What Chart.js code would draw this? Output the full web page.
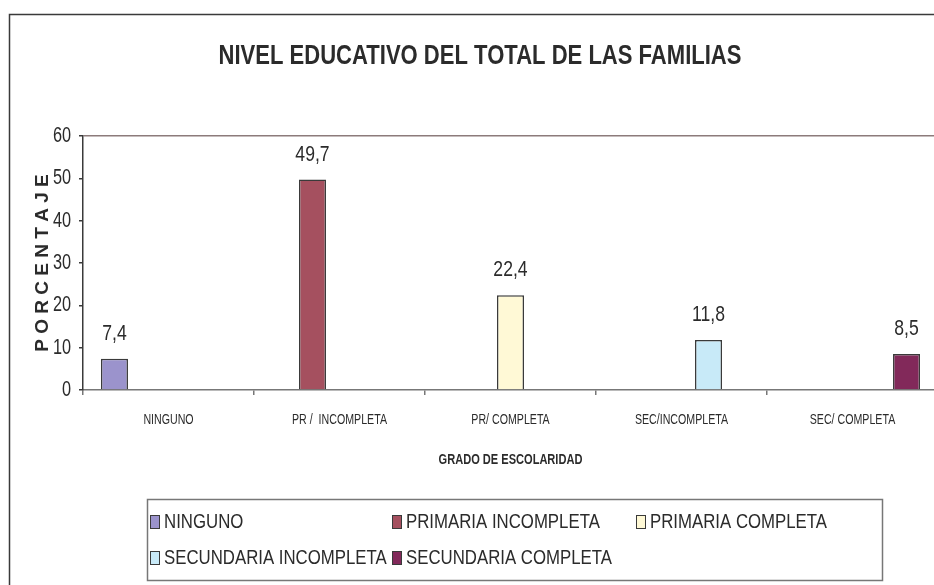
<!DOCTYPE html>
<html>
<head>
<meta charset="utf-8">
<script src="https://cdn.jsdelivr.net/npm/chart.js@4.4.1/dist/chart.umd.min.js"></script>
<style>
  html, body { margin: 0; padding: 0; background: #fff; overflow: hidden; width: 934px; height: 585px; }
  #wrap { position: absolute; left: 0; top: 0; width: 960px; height: 585px; }
</style>
</head>
<body>
<div id="wrap"><canvas id="c" width="960" height="585"></canvas></div>
<script>
const categories = ['NINGUNO', 'PR /  INCOMPLETA', 'PR/ COMPLETA', 'SEC/INCOMPLETA', 'SEC/ COMPLETA'];
const seriesNames = ['NINGUNO', 'PRIMARIA INCOMPLETA', 'PRIMARIA COMPLETA', 'SECUNDARIA INCOMPLETA', 'SECUNDARIA COMPLETA'];
const values = [7.4, 49.7, 22.4, 11.8, 8.5];
const yTickValues = [0, 10, 20, 30, 40, 50, 60];
const chartTitle = 'NIVEL EDUCATIVO DEL TOTAL DE LAS FAMILIAS';
const xTitle = 'GRADO DE ESCOLARIDAD';
const yTitle = 'P O R C E N T A J E';

const seriesColors = ['#9b93cc', '#a5505f', '#fff9d6', '#c8eaf8', '#82295a'];
const FONT = "'Liberation Sans', Arial, sans-serif";
const TEXT = '#2b2b2b';
const SX = 0.78;

function narrowText(ctx, text, x, y, size, bold, align, sx) {
  ctx.save();
  ctx.font = (bold ? 'bold ' : '') + size + 'px ' + FONT;
  ctx.textAlign = align;
  ctx.textBaseline = 'middle';
  ctx.fillStyle = TEXT;
  ctx.translate(x, y);
  ctx.scale(sx || SX, 1);
  ctx.fillText(text, 0, 0);
  ctx.restore();
}

const datasets = seriesNames.map((name, i) => ({
  label: name,
  data: categories.map((c, j) => (j === i ? values[i] : null)),
  backgroundColor: seriesColors[i],
  borderColor: '#3a3a3a',
  borderWidth: 1.5
}));

const framePlugin = {
  id: 'frame',
  beforeDraw(chart) {
    const ctx = chart.ctx;
    ctx.save();
    ctx.fillStyle = '#fff';
    ctx.fillRect(0, 0, chart.width, chart.height);
    ctx.strokeStyle = '#3a3a3a';
    ctx.lineWidth = 1.5;
    ctx.strokeRect(9.5, 14.5, 2000, 2000);
    ctx.font = 'bold 27px ' + FONT;
    const w = ctx.measureText(chartTitle).width;
    ctx.restore();
    narrowText(ctx, chartTitle, 480, 57, 27, true, 'center', 523 / w);
  }
};

const axisTextPlugin = {
  id: 'axisText',
  afterDraw(chart) {
    const ctx = chart.ctx;
    const xs = chart.scales.x, ys = chart.scales.y;
    ys.ticks.forEach(t => {
      narrowText(ctx, String(t.value), 71, ys.getPixelForValue(t.value), 22, false, 'right', 0.74);
    });
    categories.forEach((c, i) => {
      narrowText(ctx, c, xs.getPixelForValue(i), 420, 14, false, 'center', 0.76);
    });
    narrowText(ctx, xTitle, (xs.left + xs.right) / 2, 460, 14, true, 'center', 0.79);
  }
};

const labelPlugin = {
  id: 'valueLabels',
  afterDatasetsDraw(chart) {
    const ctx = chart.ctx;
    chart.data.datasets.forEach((ds, i) => {
      const meta = chart.getDatasetMeta(i);
      ds.data.forEach((v, j) => {
        if (v === null) return;
        const el = meta.data[j];
        narrowText(ctx, String(v).replace('.', ','), el.x, el.y - 25, 22, false, 'center', 0.8);
      });
    });
  }
};

const legendPlugin = {
  id: 'gridLegend',
  afterDraw(chart) {
    const ctx = chart.ctx;
    ctx.save();
    ctx.strokeStyle = '#777';
    ctx.lineWidth = 1.5;
    ctx.strokeRect(147.5, 499.5, 735, 81);
    ctx.restore();
    const colX = [150, 392, 636];
    const rowY = [522, 558];
    chart.data.datasets.forEach((ds, i) => {
      const x = colX[i % 3];
      const y = rowY[Math.floor(i / 3)];
      ctx.save();
      ctx.fillStyle = ds.backgroundColor;
      ctx.fillRect(x, y - 7, 10, 14);
      ctx.strokeStyle = '#3a3a3a';
      ctx.lineWidth = 1;
      ctx.strokeRect(x + 0.5, y - 6.5, 9, 13);
      ctx.restore();
      narrowText(ctx, ds.label, x + 14, y, 21, false, 'left', 0.8);
    });
  }
};

new Chart(document.getElementById('c'), {
  type: 'bar',
  data: { labels: categories, datasets },
  plugins: [framePlugin, labelPlugin, axisTextPlugin, legendPlugin],
  options: {
    responsive: false,
    animation: false,
    events: [],
    layout: { padding: { top: 136, right: 22, left: 0, bottom: 0 } },
    datasets: { bar: { categoryPercentage: 0.79, barPercentage: 1, grouped: true } },
    plugins: { legend: { display: false }, title: { display: false }, tooltip: { enabled: false } },
    scales: {
      x: {
        afterFit(scale) { scale.height = 195; },
        grid: { offset: true, drawOnChartArea: false, tickLength: 5, color: '#777', lineWidth: 1.5 },
        border: { color: '#777', width: 1.5 },
        ticks: { color: 'rgba(0,0,0,0)', font: { size: 14 }, padding: 16, maxRotation: 0, autoSkip: false }
      },
      y: {
        min: 0, max: 60,
        afterFit(scale) { scale.width = 83; },
        afterBuildTicks(scale) { scale.ticks = yTickValues.map(v => ({ value: v })); },
        grid: {
          tickLength: 4,
          color: (c) => (c.tick && c.tick.value === 60 ? '#8c7b7b' : 'rgba(0,0,0,0)'),
          tickColor: '#3a3a3a',
          lineWidth: 1.5
        },
        border: { color: '#3a3a3a', width: 1.5 },
        ticks: { color: 'rgba(0,0,0,0)', font: { size: 20 }, padding: 8 },
        title: { display: true, text: yTitle, color: TEXT, font: { family: FONT, size: 19, weight: 'bold' }, padding: { top: 31, bottom: 0 } }
      }
    }
  }
});
</script>
</body>
</html>
